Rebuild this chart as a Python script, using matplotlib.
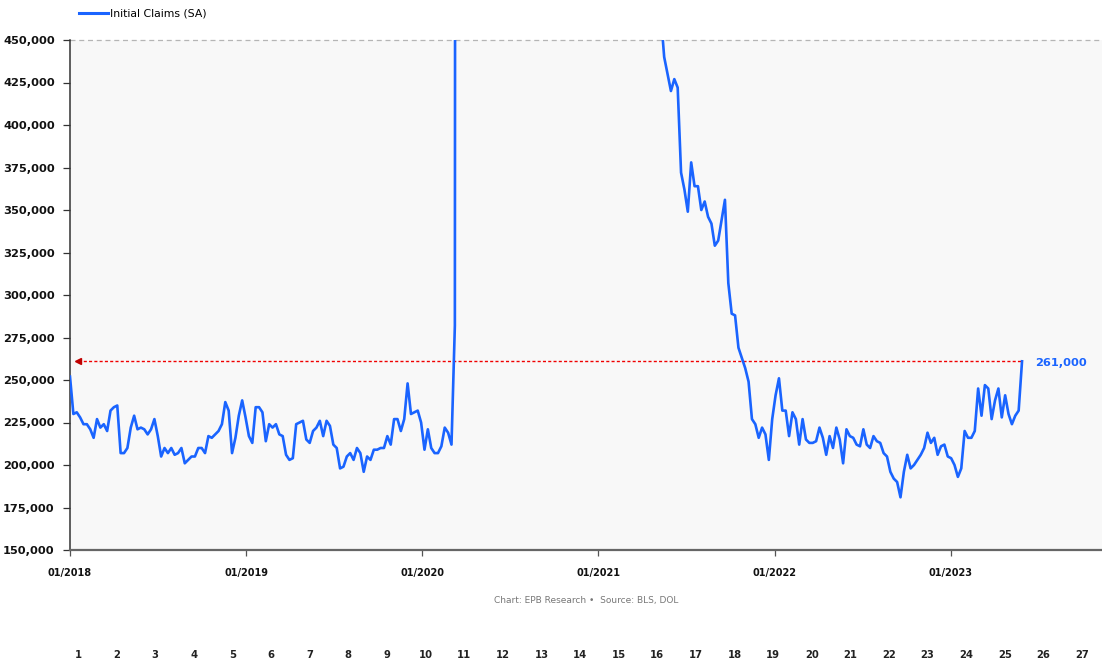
import numpy as np
import matplotlib
matplotlib.use("Agg")
import matplotlib.pyplot as plt
from matplotlib.lines import Line2D

# Weekly initial claims (SA), thousands, week ending 2018-01-06 .. 2023-06-03
claims_k = [
    252, 230, 231, 228, 224, 224, 221, 216, 227, 222, 224, 220, 232, 234, 235, 207,
    207, 210, 222, 229, 221, 222, 221, 218, 221, 227, 217, 205, 210, 207, 210, 206,
    207, 210, 201, 203, 205, 205, 210, 210, 207, 217, 216, 218, 220, 224, 237, 232,
    207, 216, 229, 238, 228, 217, 213, 234, 234, 231, 214, 224, 222, 224, 218, 217,
    206, 203, 204, 224, 225, 226, 215, 213, 220, 222, 226, 217, 226, 223, 212, 210,
    198, 199, 205, 207, 203, 210, 207, 196, 205, 203, 209, 209, 210, 210, 217, 212,
    227, 227, 220, 227, 248, 230, 231, 232, 225, 209, 221, 210, 207, 207, 211, 222,
    219, 212, 282, 3307, 6867, 6615, 5237, 4442, 3867, 3176, 2687, 2446, 1897, 1566,
    1540, 1482, 1413, 1310, 1422, 1263, 1199, 1435, 971, 1104, 1011, 893, 866, 849,
    873, 849, 804, 762, 758, 757, 711, 748, 787, 720, 862, 935, 803, 837, 784, 815,
    922, 926, 886, 812, 779, 841, 873, 745, 770, 712, 684, 658, 742, 576, 553, 590,
    514, 498, 478, 465, 440, 430, 420, 427, 422, 372, 362, 349, 378, 364, 364, 350,
    355, 346, 342, 329, 332, 344, 356, 307, 289, 288, 269, 263, 257, 249, 227, 224,
    216, 222, 218, 203, 227, 241, 251, 232, 232, 217, 231, 227, 212, 227, 215, 213,
    213, 214, 222, 216, 206, 217, 210, 222, 215, 201, 221, 217, 216, 212, 211, 221,
    212, 210, 217, 214, 213, 207, 205, 196, 192, 190, 181, 196, 206, 198, 200, 203,
    206, 210, 219, 213, 216, 206, 211, 212, 205, 204, 200, 193, 198, 220, 216, 216,
    220, 245, 229, 247, 245, 227, 238, 245, 228, 241, 230, 224, 229, 232, 261,
]
year_labels = ["01/2018", "01/2019", "01/2020", "01/2021", "01/2022", "01/2023"]
y_ticks = [150000, 175000, 200000, 225000, 250000, 275000, 300000, 325000,
           350000, 375000, 400000, 425000, 450000]
bottom_labels = [str(i) for i in range(1, 28)]
series_name = "Initial Claims (SA)"
source_text = "Chart: EPB Research \u2022  Source: BLS, DOL"

claims = np.array(claims_k, dtype=float) * 1000
weeks = np.arange(len(claims))
tick_pos = np.arange(len(year_labels)) * 365.25 / 7

BLUE = "#1a64ff"
RED = "#f00000"

W, H = 1102, 666
fig = plt.figure(figsize=(W / 100, H / 100), dpi=100)
fig.patch.set_facecolor("white")

ax = fig.add_axes([70 / W, (H - 550) / H, (1102 - 70) / W, 510 / H])
ax.set_facecolor("#f8f8f8")

line, = ax.plot(weeks, claims, color=BLUE, lw=1.9, solid_joinstyle="round",
                label=series_name, zorder=3)

ax.set_xlim(0, (1102 - 70) / 3.376)
ax.set_ylim(150000, 450000)

# top dashed reference line
ax.axhline(450000, color="#b5b5b5", lw=0.9, ls=(0, (4, 3)), zorder=1, clip_on=False)

# latest value reference line with arrow
last_x, last_y = weeks[-1], claims[-1]
ax.hlines(last_y, 2.5, last_x, colors=RED, lw=1.0, linestyles=(0, (2.2, 1.6)), zorder=2)
ax.plot([2.4], [last_y], marker="<", ms=5, color="#c00000", mec="#c00000", zorder=2)
ax.annotate(f"{int(last_y):,}", xy=(last_x, last_y), xytext=(9.5, -1),
            textcoords="offset points", va="center", ha="left",
            color=BLUE, fontsize=8.2, fontweight="bold")

for s in ["top", "right"]:
    ax.spines[s].set_visible(False)
ax.spines["left"].set_color("#333333")
ax.spines["left"].set_linewidth(1.1)
ax.spines["bottom"].set_color("#666666")
ax.spines["bottom"].set_linewidth(1.6)

ax.set_yticks(y_ticks)
ax.set_yticklabels([f"{v:,}" for v in y_ticks])
ax.tick_params(axis="y", length=5, width=0.9, color="#333333", pad=6,
               labelsize=8.2, labelcolor="#111111")
for t in ax.get_yticklabels():
    t.set_fontweight("bold")

ax.set_xticks(tick_pos)
ax.set_xticklabels(year_labels)
ax.tick_params(axis="x", length=4, width=0.9, color="#555555", pad=9,
               labelsize=7, labelcolor="#111111")
for t in ax.get_xticklabels():
    t.set_fontweight("bold")

# legend
fig.legend(handles=[Line2D([0], [0], color=BLUE, lw=2.2)], labels=[series_name],
           loc="center left", bbox_to_anchor=(79 / W, 1 - 14 / H),
           frameon=False, fontsize=7.8, handlelength=2.7, handletextpad=0.2,
           borderpad=0, borderaxespad=0)

# source note
fig.text(586 / W, 1 - 600 / H, source_text, ha="center", va="center",
         fontsize=6.5, color="#777777")

# bottom numeric axis
ax2 = fig.add_axes([58.7 / W, 19 / H, (1101.3 - 58.7) / W, 0.001])
ax2.set_xlim(0.5, len(bottom_labels) + 0.5)
ax2.set_xticks(np.arange(1, len(bottom_labels) + 1))
ax2.set_xticklabels(bottom_labels)
ax2.set_yticks([])
ax2.patch.set_alpha(0)
for s in ax2.spines.values():
    s.set_visible(False)
ax2.tick_params(axis="x", length=0, labelsize=7.2, labelcolor="#222222", pad=2)
for t in ax2.get_xticklabels():
    t.set_fontweight("bold")

fig.savefig("out.png", dpi=100)
